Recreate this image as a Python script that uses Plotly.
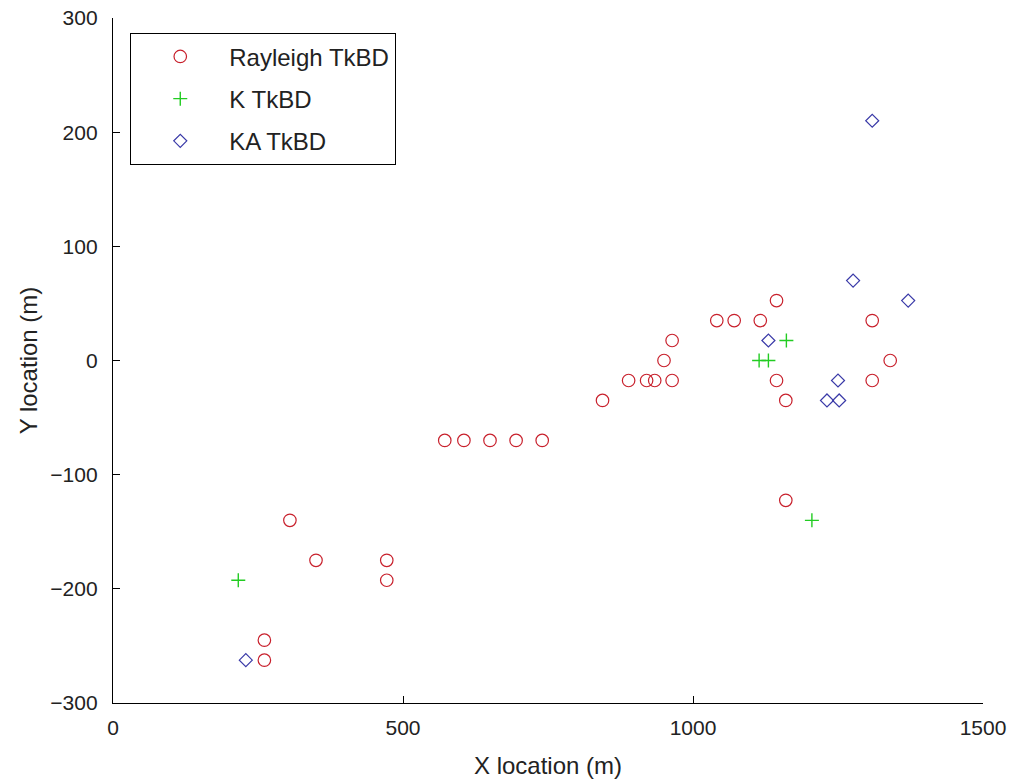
import plotly.graph_objects as go

# Rayleigh TkBD detections
ray_x = [261, 261, 305, 350, 472, 472,
         572, 605, 650, 695, 740,
         844, 889, 920, 934, 964,
         950, 964,
         1041, 1071, 1116, 1144,
         1144, 1160, 1160,
         1309, 1309, 1340]
ray_y = [-245, -262.5, -140, -175, -175, -192.5,
         -70, -70, -70, -70, -70,
         -35, -17.5, -17.5, -17.5, -17.5,
         0, 17.5,
         35, 35, 35, 52.5,
         -17.5, -35, -122.5,
         35, -17.5, 0]

# K TkBD detections
k_x = [216, 1114, 1130, 1161, 1205]
k_y = [-192.5, 0, 0, 17.5, -140]

# KA TkBD detections
ka_x = [229, 1130, 1250, 1231, 1252, 1276, 1371, 1309]
ka_y = [-262.5, 17.5, -17.5, -35, -35, 70, 52.5, 210]

x_ticks = [0, 500, 1000, 1500]
y_ticks = [-300, -200, -100, 0, 100, 200, 300]

FONT = "Liberation Sans, Arial, Helvetica, sans-serif"
FS = 21

fig = go.Figure()
fig.add_trace(go.Scatter(
    x=ray_x, y=ray_y, mode="markers", name="Rayleigh TkBD", legendgroup="a",
    marker=dict(symbol="circle-open", size=12.5, color="#c8202c", line=dict(width=1.2)),
))
fig.add_trace(go.Scatter(
    x=k_x, y=k_y, mode="markers", name="K TkBD", legendgroup="b",
    marker=dict(symbol="cross-thin-open", size=10, color="#22cc22", line=dict(width=1.4)),
))
fig.add_trace(go.Scatter(
    x=ka_x, y=ka_y, mode="markers", name="KA TkBD", legendgroup="c",
    marker=dict(symbol="diamond-open", size=10, color="#3a3aa8", line=dict(width=1.2)),
))

axis_common = dict(
    showgrid=False, zeroline=False, showline=True, linecolor="black", linewidth=1.3,
    mirror=False, ticks="inside", ticklen=7, tickcolor="black", tickwidth=1.3,
    tickfont=dict(family=FONT, size=FS, color="#222222"), automargin=False,
)

fig.update_layout(
    width=1013, height=780,
    margin=dict(l=113, r=30, t=18, b=77),
    plot_bgcolor="white", paper_bgcolor="white",
    font=dict(family=FONT, size=FS, color="#222222"),
    xaxis=dict(range=[0, 1500], tickvals=x_ticks,
               title=dict(text="X location (m)", standoff=18, font=dict(size=24)),
               ticklabelstandoff=6, **axis_common),
    yaxis=dict(range=[-300, 300], tickvals=y_ticks,
               title=dict(text="Y location (m)", standoff=5, font=dict(size=24)),
               ticklabelstandoff=10, **axis_common),
    legend=dict(x=0.0195, y=0.978, xanchor="left", yanchor="top",
                bgcolor="white", bordercolor="black", borderwidth=1.3,
                font=dict(family=FONT, size=24, color="#222222"),
                tracegroupgap=8, itemwidth=88),
    showlegend=True,
)

fig.write_html("out.html")
